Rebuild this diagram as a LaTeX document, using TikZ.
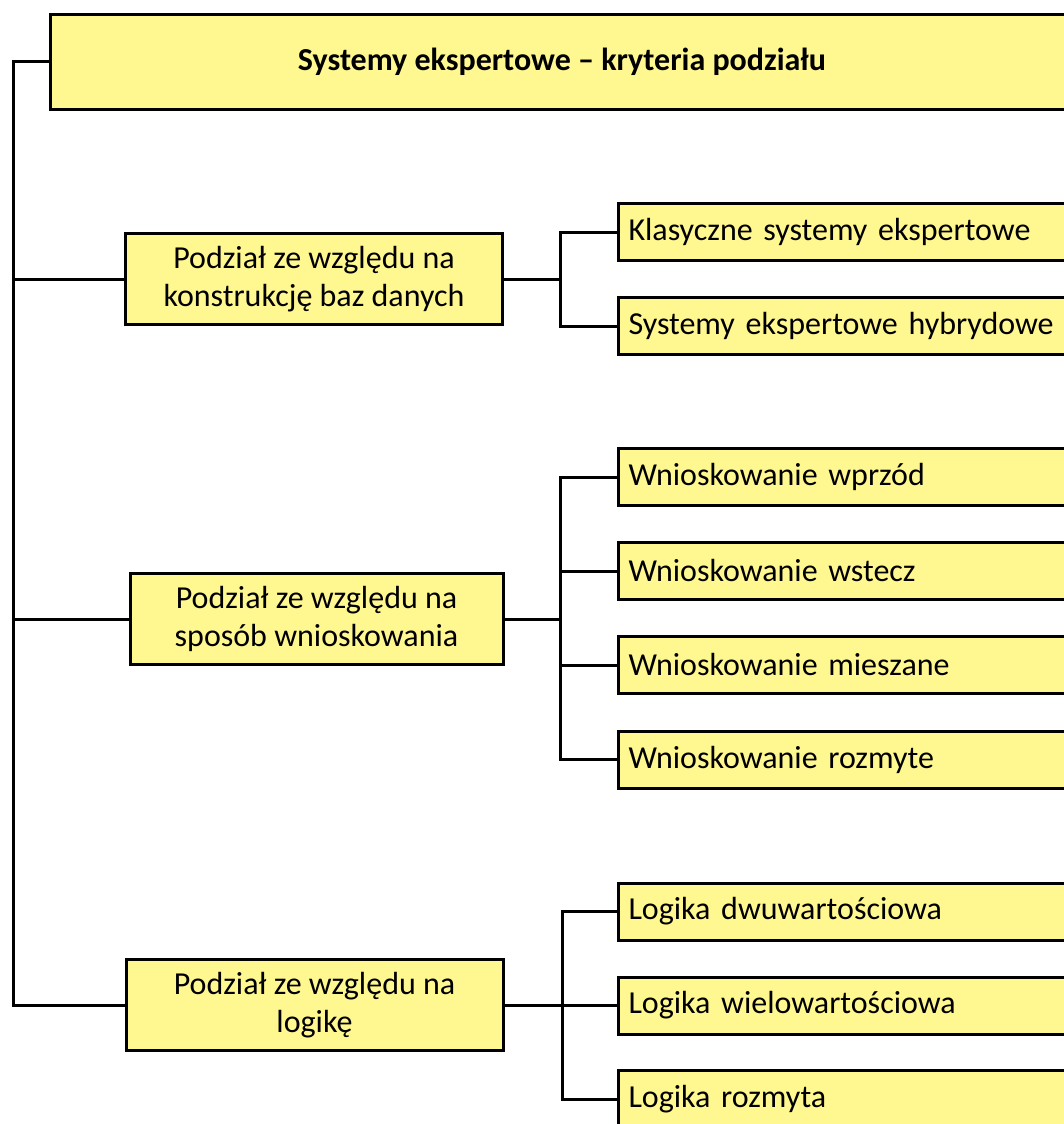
\documentclass[tikz,border=0pt]{standalone}
\usepackage{fontspec}
\setmainfont{Carlito}
\definecolor{boxfill}{RGB}{255,247,143}
\begin{document}
\begin{tikzpicture}[x=1pt,y=-1pt,
  box/.style={draw=black, line width=3pt, fill=boxfill, inner sep=0pt,
    font=\fontsize{32}{38}\selectfont},
  catbox/.style={box, minimum width=377pt, minimum height=91pt, align=center},
  leafbox/.style={box, anchor=west, minimum height=57pt, text width=440pt,
    inner xsep=10pt},
  conn/.style={draw=black, line width=3pt, line join=miter}]
\clip (0,0) rectangle (1064,1124);

% root
\node[box, minimum width=1024pt, minimum height=94pt,
  font=\bfseries\fontsize{32}{38}\selectfont] (root) at (562,62)
  {Systemy ekspertowe – kryteria podziału};

% categories
\node[catbox] (b1) at (314,279) {Podział ze względu na\\konstrukcję baz danych};
\node[catbox, minimum width=373pt] (b2) at (316.5,619) {Podział ze względu na\\sposób wnioskowania};
\node[catbox] (b3) at (314.5,1005) {Podział ze względu na\\logikę};

% leaves
\node[leafbox] (k1) at (617,232) {Klasyczne systemy ekspertowe};
\node[leafbox] (k2) at (617,326) {Systemy ekspertowe hybrydowe};
\node[leafbox] (w1) at (617,477) {Wnioskowanie wprzód};
\node[leafbox] (w2) at (617,571) {Wnioskowanie wstecz};
\node[leafbox] (w3) at (617,665) {Wnioskowanie mieszane};
\node[leafbox] (w4) at (617,759.5) {Wnioskowanie rozmyte};
\node[leafbox] (l1) at (617,911.5) {Logika dwuwartościowa};
\node[leafbox] (l2) at (617,1005.5) {Logika wielowartościowa};
\node[leafbox] (l3) at (617,1099) {Logika rozmyta};

% trunk
\coordinate (ttop) at (13,61);
\coordinate (tbot) at (13,1004);
\draw[conn] (root.west) -- (ttop |- root.west) -- (ttop |- b3.west) -- (b3.west);
\draw[conn] (ttop |- b1.west) -- (b1.west);
\draw[conn] (ttop |- b2.west) -- (b2.west);

% brackets
\coordinate (j1) at (560,0);
\coordinate (j3) at (562,0);
\draw[conn] (b1.east) -- (b1.east -| j1);
\draw[conn] (k1.west) -- (k1.west -| j1) -- (k2.west -| j1) -- (k2.west);
\draw[conn] (b2.east) -- (b2.east -| j1);
\draw[conn] (w1.west) -- (w1.west -| j1) -- (w4.west -| j1) -- (w4.west);
\draw[conn] (w2.west) -- (w2.west -| j1);
\draw[conn] (w3.west) -- (w3.west -| j1);
\draw[conn] (b3.east) -- (b3.east -| j3);
\draw[conn] (l1.west) -- (l1.west -| j3) -- (l3.west -| j3) -- (l3.west);
\draw[conn] (l2.west) -- (l2.west -| j3);
\end{tikzpicture}
\end{document}
